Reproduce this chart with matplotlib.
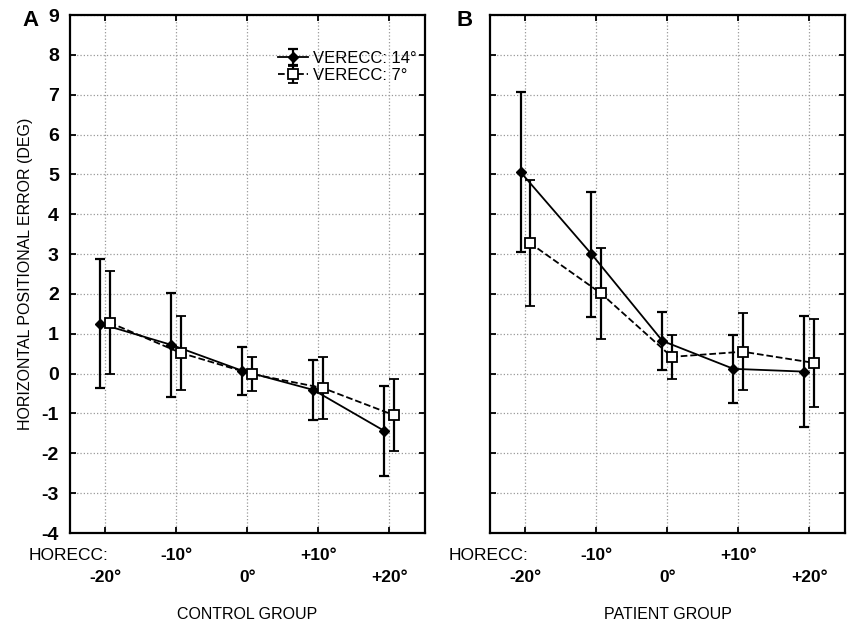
import matplotlib
matplotlib.use("Agg")
import matplotlib.pyplot as plt
import numpy as np

plt.rcParams['font.family'] = ['Liberation Sans', 'DejaVu Sans']
plt.rcParams['axes.unicode_minus'] = False

# ===== Date =====
horecc = ["-20°", "-10°", "0°", "+10°", "+20°"]

ctrl_14 = [1.25, 0.72, 0.07, -0.41, -1.44]
ctrl_14_err = [1.62, 1.30, 0.60, 0.75, 1.12]
ctrl_7 = [1.28, 0.52, -0.01, -0.36, -1.04]
ctrl_7_err = [1.30, 0.93, 0.43, 0.77, 0.90]

pat_14 = [5.06, 3.00, 0.82, 0.12, 0.05]
pat_14_err = [2.00, 1.57, 0.72, 0.86, 1.40]
pat_7 = [3.28, 2.02, 0.42, 0.55, 0.27]
pat_7_err = [1.58, 1.14, 0.56, 0.97, 1.10]

fig = plt.figure(figsize=(8.48, 6.25), dpi=100)
axA = fig.add_axes([0.0825, 0.1472, 0.4186, 0.8288])
axB = fig.add_axes([0.5778, 0.1472, 0.4186, 0.8288])

x = np.arange(len(horecc)) + 0.5

def draw_panel(ax, v14, e14, v7, e7, group):
    h1 = ax.errorbar(x - 0.07, v14, yerr=e14, fmt='-D', color='black', lw=1.3,
                     elinewidth=1.6, capsize=3.5, capthick=1.6,
                     ms=5, mfc='black', mec='black', zorder=3)
    h2 = ax.errorbar(x + 0.06, v7, yerr=e7, fmt='--s', color='black', lw=1.3,
                     elinewidth=1.6, capsize=3.5, capthick=1.6,
                     ms=7, mfc='white', mec='black', mew=1.3, zorder=4)
    ax.set_xlim(0, 5)
    ax.set_ylim(-4, 9)
    ax.set_yticks(range(-4, 10))
    ax.set_xticks(x)
    ax.set_xticklabels([])
    ax.grid(True, color='#999999', ls=':', lw=0.9)
    ax.tick_params(direction='in', length=4, width=1.3, top=True, right=True,
                   labelsize=14, pad=8)
    for s in ax.spines.values():
        s.set_linewidth(1.6)
    # etichete x in doua randuri
    for i, lab in enumerate(horecc):
        yy = -0.085 if i % 2 == 0 else -0.043
        ax.text(x[i] / 5, yy, lab, transform=ax.transAxes, ha='center',
                va='center', fontsize=12.5, fontweight='bold')
    ax.text(-0.005, -0.043, "HORECC:", transform=ax.transAxes, ha='center',
            va='center', fontsize=12.5)
    ax.text(0.5, -0.158, group, transform=ax.transAxes, ha='center',
            va='center', fontsize=11.5)
    return h1, h2

h1, h2 = draw_panel(axA, ctrl_14, ctrl_14_err, ctrl_7, ctrl_7_err, "CONTROL GROUP")
draw_panel(axB, pat_14, pat_14_err, pat_7, pat_7_err, "PATIENT GROUP")

for t in axA.get_yticklabels():
    t.set_fontweight('bold')
axB.set_yticklabels([])

axA.set_ylabel("HORIZONTAL POSITIONAL ERROR (DEG)", fontsize=11.5, labelpad=6)

axA.legend([h1, h2], ["VERECC: 14°", "VERECC: 7°"], loc='upper right',
           bbox_to_anchor=(1.02, 0.96), frameon=False, fontsize=12,
           handlelength=1.8, handletextpad=0.3, labelspacing=0.15)

fig.text(22 / 848, 1 - 20 / 625, "A", fontsize=16, fontweight='bold',
         ha='left', va='center')
fig.text(456 / 848, 1 - 20 / 625, "B", fontsize=16, fontweight='bold',
         ha='left', va='center')

fig.savefig("out.png", dpi=100)
